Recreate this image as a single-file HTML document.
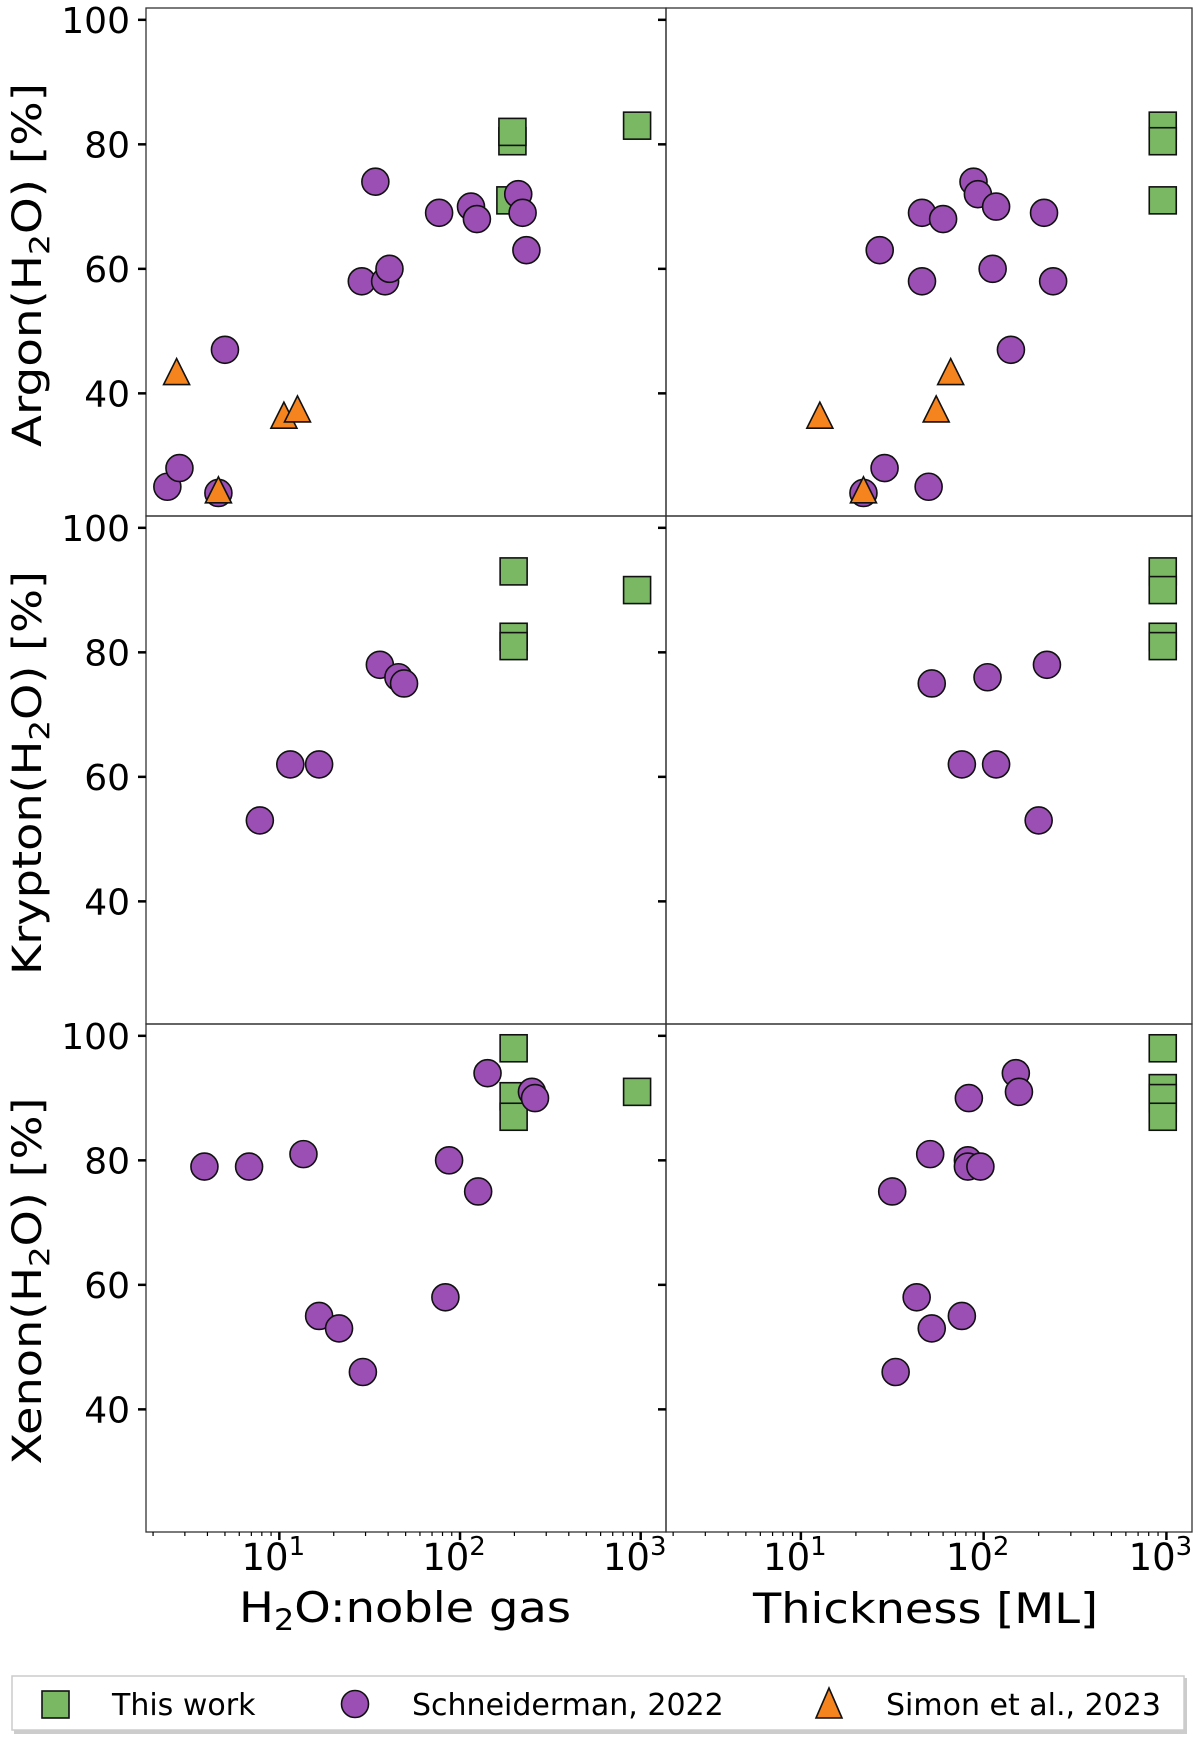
<!DOCTYPE html>
<html><head><meta charset="utf-8">
<style>
html,body{margin:0;padding:0;background:#fff;}
svg{display:block;font-family:"DejaVu Sans","Liberation Sans",sans-serif;}
</style></head>
<body>
<svg id="chart" width="1200" height="1740" viewBox="0 0 1200 1740" xmlns="http://www.w3.org/2000/svg"></svg>
<script>
// ---- data (x, y%) ----
// Argon, left (H2O:noble gas)
const arLeftThis = [[195,80.5],[195,82],[190,71],[955,83]];
const arLeftSch = [[2.4,25],[2.8,28],[4.6,24],[5.0,47],[28.6,58],[34,74],[38.5,58],[40.7,60],[76.6,69],[115,70],[124,68],[210,72],[222,69],[233,63]];
const arLeftSim = [[2.7,43],[4.6,24],[10.6,36],[12.6,37]];
// Argon, right (thickness)
const arRightThis = [[955,83],[955,80.5],[955,71]];
const arRightSch = [[22,24],[28.7,28],[27,63],[46,58],[46,69],[50,25],[60,68],[88,74],[93,72],[117,70],[112,60],[141,47],[214,69],[240,58]];
const arRightSim = [[12.7,36],[22,24],[55,37],[66,43]];
// Krypton
const krLeftThis = [[198,93],[198,82.5],[198,81],[955,90]];
const krLeftSch = [[7.8,53],[11.5,62],[16.6,62],[36,78],[45.6,76],[49,75]];
const krRightThis = [[955,93],[955,90],[955,82.5],[955,81]];
const krRightSch = [[52,75],[76,62],[117,62],[105,76],[200,53],[222,78]];
// Xenon
const xeLeftThis = [[198,98],[198,90.3],[198,87],[955,91]];
const xeLeftSch = [[3.85,79],[6.8,79],[13.6,81],[16.6,55],[21.4,53],[29,46],[83,58],[87,80],[126,75],[142,94],[250,91],[260,90]];
const xeRightThis = [[955,98],[955,91.6],[955,90],[955,87]];
const xeRightSch = [[31.6,75],[33,46],[43,58],[51,81],[52,53],[76,55],[83,90],[82,80],[82,79],[96,79],[150,94],[156,91]];
const yTicks = [40,60,80,100];
const xTickExps = [1,2,3];
const rowNames = ["Argon","Krypton","Xenon"];
const legendLabels = ["This work","Schneiderman, 2022","Simon et al., 2023"];

const NS="http://www.w3.org/2000/svg";
const svg=document.getElementById('chart');
function mk(tag,attrs,parent){const e=document.createElementNS(NS,tag);for(const k in attrs)e.setAttribute(k,attrs[k]);(parent||svg).appendChild(e);return e;}

const cols=[{x0:146,x1:666},{x0:666,x1:1192}];
const rows=[{y0:8},{y0:516},{y0:1024}];
const PH=508, XMIN=0.262, XMAX=3.14, YMIN=20.3, YMAX=101.9;
function xs(c,v){const col=cols[c];return col.x0+(Math.log10(v)-XMIN)/(XMAX-XMIN)*(col.x1-col.x0);}
function ys(r,v){return rows[r].y0+(YMAX-v)/(YMAX-YMIN)*PH;}

const GREEN="#7ab863",PURPLE="#9b4fb4",ORANGE="#f5841f";
function square(g,x,y){const s=27;const e=mk('rect',{x:x-s/2,y:y-s/2,width:s,height:s,fill:GREEN,stroke:"#111","stroke-width":1.6},g);}
function circle(g,x,y){const e=mk('circle',{cx:x,cy:y,r:13.5,fill:PURPLE,stroke:"#111","stroke-width":1.6},g);}
function tri(g,x,y){const h=26,w=26;const e=mk('polygon',{points:`${x},${y-h*0.62} ${x-w/2},${y+h*0.38} ${x+w/2},${y+h*0.38}`,fill:ORANGE,stroke:"#111","stroke-width":1.6},g);}

const panels=[
 [arLeftThis,arLeftSch,arLeftSim],[arRightThis,arRightSch,arRightSim],
 [krLeftThis,krLeftSch,[]],[krRightThis,krRightSch,[]],
 [xeLeftThis,xeLeftSch,[]],[xeRightThis,xeRightSch,[]]
];
for(let r=0;r<3;r++){for(let c=0;c<2;c++){
  const col=cols[c],y0=rows[r].y0;
  const g=mk('g',{});
  
  
  mk('rect',{x:col.x0,y:y0,width:col.x1-col.x0,height:PH,fill:"none",stroke:"#333","stroke-width":1.3},g);
  yTicks.forEach(t=>{const y=ys(r,t);mk('line',{x1:col.x0-8,x2:col.x0,y1:y,y2:y,stroke:"#000","stroke-width":2.5},g);});
  const d=panels[r*2+c];
  d[0].forEach(p=>square(g,xs(c,p[0]),ys(r,p[1])));
  d[1].forEach(p=>circle(g,xs(c,p[0]),ys(r,p[1])));
  d[2].forEach(p=>tri(g,xs(c,p[0]),ys(r,p[1])));
}}
const ylabLens=[364,404,367];
for(let r=0;r<3;r++){
  yTicks.forEach(t=>{const e=mk('text',{x:130,y:ys(r,t)+13,"text-anchor":"end","font-size":36,fill:"#000"});e.textContent=t;});
  const cy=rows[r].y0+257;
  const t=mk('text',{x:0,y:0,"text-anchor":"middle","font-size":40,fill:"#000",transform:`translate(41,${cy}) rotate(-90)`,textLength:ylabLens[r],lengthAdjust:"spacingAndGlyphs"});
  t.innerHTML=rowNames[r]+'(H<tspan font-size="28" dy="8">2</tspan><tspan dy="-8">O) [%]</tspan>';
  
  
}
const yb=rows[2].y0+PH;
for(let c=0;c<2;c++){
  for(let e=0;e<=3;e++){for(let m=1;m<10;m++){const v=m*Math.pow(10,e);const lv=Math.log10(v);if(lv<XMIN||lv>XMAX)continue;const x=xs(c,v);
    mk('line',{x1:x,x2:x,y1:yb,y2:yb+(m==1?8:4),stroke:"#000","stroke-width":m==1?2.5:1.2});}}
  xTickExps.forEach(ex=>{const x=xs(c,Math.pow(10,ex));const t=mk('text',{x:x-6,y:1570,"text-anchor":"middle","font-size":37,fill:"#000"});t.innerHTML='10<tspan font-size="26" dy="-15">'+ex+'</tspan>';});
}
</script>
<svg style="position:absolute;left:0;top:0" width="1200" height="1740">
<text x="239" y="1622" font-size="42" textLength="332" lengthAdjust="spacingAndGlyphs" font-family="DejaVu Sans, Liberation Sans, sans-serif">H<tspan font-size="29" dy="8">2</tspan><tspan dy="-8">O:noble gas</tspan></text>
<text x="753" y="1623" font-size="42" textLength="345" lengthAdjust="spacingAndGlyphs" font-family="DejaVu Sans, Liberation Sans, sans-serif">Thickness [ML]</text>
<g>
<rect x="14" y="1678" width="1173" height="56" fill="#ccc"/>
<rect x="12" y="1676" width="1172" height="54" fill="#fff" stroke="#ccc" stroke-width="1.5"/>
<rect x="42" y="1691" width="27" height="27" fill="#7ab863" stroke="#111" stroke-width="1.6"/>
<text x="112" y="1715" font-size="30" font-family="DejaVu Sans, Liberation Sans, sans-serif">This work</text>
<circle cx="355" cy="1704" r="13.5" fill="#9b4fb4" stroke="#111" stroke-width="1.6"/>
<text x="412" y="1715" font-size="30" font-family="DejaVu Sans, Liberation Sans, sans-serif">Schneiderman, 2022</text>
<polygon points="829,1688 816,1718 842,1718" fill="#f5841f" stroke="#111" stroke-width="1.6"/>
<text x="886" y="1715" font-size="30" font-family="DejaVu Sans, Liberation Sans, sans-serif">Simon et al., 2023</text>
</g>
</svg>
</body></html>
